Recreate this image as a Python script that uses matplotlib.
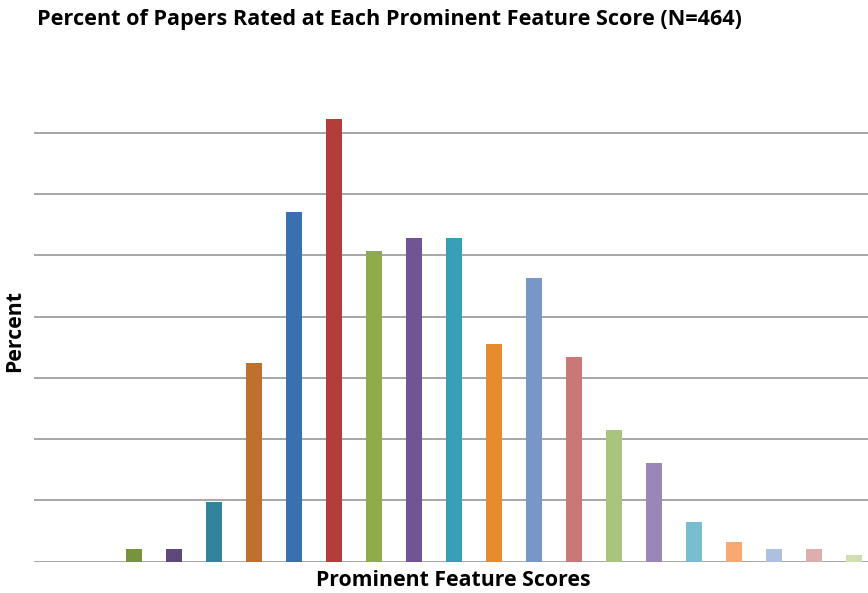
import matplotlib.pyplot as plt


# prominent feature score slots (no tick labels shown in the original)
scores = list(range(21))

# percent of 464 papers at each score
percent = [0.0, 0.0, 0.43, 0.43, 1.94, 6.47, 11.42, 14.44, 10.13, 10.56,
           10.56, 7.11, 9.27, 6.68, 4.31, 3.23, 1.29, 0.65, 0.43, 0.43, 0.22]

bar_colors = ["#4F81BD", "#C0504D", "#77933C", "#5F497A", "#31849B",
              "#C0702E", "#3A6FB0", "#B43C39", "#8FAC4A", "#715495",
              "#37A0B8", "#E88A2E", "#7896C8", "#C97777", "#A9C47D",
              "#9A86B8", "#78BED0", "#F8A870", "#AEBFE0", "#DCAEAD",
              "#CFDFB3"]

grid_ticks = [0, 2, 4, 6, 8, 10, 12, 14]


def main():
    fig = plt.figure(figsize=(8.68, 5.93), dpi=100)
    W, H = 868, 593

    # axes runs past the right edge, as in the cropped original
    left, right = 34, 34 + 21 * 40
    base, top = 561.7, 561.7 - 8 * 61.3
    ax = fig.add_axes([left / W, 1 - base / H, (right - left) / W, (base - top) / H])

    ax.bar(scores, percent, width=0.4, color=bar_colors, zorder=3)

    ax.set_xlim(-0.5, 20.5)
    ax.set_ylim(0, 16)
    ax.set_yticks(grid_ticks)
    ax.set_xticks([])
    ax.tick_params(left=False, labelleft=False)
    ax.yaxis.grid(True, color="#A6A6A6", linewidth=1.4)
    for s in ax.spines.values():
        s.set_visible(False)

    fig.text(37 / W, 1 - 20 / H,
             "Percent of Papers Rated at Each Prominent Feature Score (N=464)",
             fontsize=15.6, fontweight="bold", family="Open Sans",
             ha="left", va="center")
    fig.text(15 / W, 1 - 331 / H, "Percent", fontsize=15.3, fontweight="bold",
             family="Open Sans", rotation=90, ha="center", va="center")
    fig.text(453 / W, 1 - 580 / H, "Prominent Feature Scores", fontsize=15.3,
             fontweight="bold", family="Open Sans", ha="center", va="center")

    fig.savefig("out.png", dpi=100)
    plt.close(fig)


if __name__ == "__main__":
    main()
